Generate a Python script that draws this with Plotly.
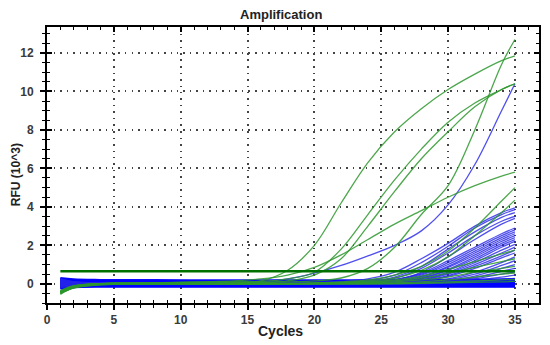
import plotly.graph_objects as go

# ---- data (RFU x10^3) read at key cycles ----
KEY_CYCLES = [1, 2, 4, 8, 14, 16, 18, 20, 22, 24, 26, 28, 30, 32, 34, 35]

GREEN_HIGH = [
    [-0.45, -0.15, 0.0, 0.05, 0.1, 0.15, 0.7, 2.0, 4.2, 6.3, 7.9, 9.1, 10.1, 10.9, 11.6, 11.85],
    [-0.4, -0.12, 0.0, 0.05, 0.1, 0.12, 0.25, 0.6, 1.8, 3.6, 5.4, 7.0, 8.4, 9.4, 10.1, 10.4],
    [-0.5, -0.2, -0.02, 0.0, 0.05, 0.08, 0.15, 0.45, 1.3, 3.0, 4.8, 6.5, 7.9, 9.2, 10.1, 10.4],
    [-0.4, -0.15, 0.0, 0.0, 0.05, 0.05, 0.1, 0.15, 0.3, 0.8, 1.9, 3.6, 5.1, 8.0, 11.4, 12.7],
    [-0.45, -0.15, 0.0, 0.05, 0.15, 0.25, 0.45, 0.85, 1.5, 2.3, 3.1, 3.8, 4.5, 5.1, 5.6, 5.8],
    [-0.35, -0.1, 0.0, 0.0, 0.0, 0.0, 0.02, 0.05, 0.1, 0.2, 0.45, 0.9, 1.7, 2.9, 4.3, 5.0],
    [-0.4, -0.15, 0.0, 0.0, 0.0, 0.0, 0.02, 0.03, 0.07, 0.15, 0.3, 0.7, 1.4, 2.5, 3.7, 4.35],
]

GREEN_LOW = [
    [-0.5, -0.2, 0.0, 0.0, 0.0, 0.0, 0.0, 0.02, 0.05, 0.1, 0.2, 0.4, 0.75, 1.15, 1.55, 1.75],
    [-0.45, -0.15, 0.0, 0.0, 0.0, 0.0, 0.0, 0.02, 0.04, 0.08, 0.15, 0.3, 0.55, 0.85, 1.15, 1.3],
    [-0.4, -0.12, 0.0, 0.0, 0.0, 0.0, 0.0, 0.0, 0.02, 0.05, 0.1, 0.2, 0.35, 0.6, 0.8, 0.9],
    [-0.55, -0.2, -0.03, 0.0, 0.0, 0.0, 0.0, 0.0, 0.0, 0.02, 0.05, 0.1, 0.2, 0.35, 0.5, 0.55],
    [-0.5, -0.22, -0.05, 0.0, 0.0, 0.0, 0.0, 0.0, 0.0, 0.0, 0.02, 0.05, 0.1, 0.15, 0.2, 0.22],
    [-0.45, -0.2, -0.05, -0.02, 0.0, 0.0, 0.0, 0.0, 0.0, 0.0, 0.0, 0.02, 0.05, 0.08, 0.1, 0.12],
]

BLUE_TOP = [0.1, 0.05, 0.02, 0.02, 0.05, 0.1, 0.25, 0.55, 0.95, 1.45, 2.0, 2.75, 4.1, 6.2, 9.0, 10.4]

BLUE_UPPER = [
    [0.2, 0.1, 0.05, 0.05, 0.05, 0.05, 0.05, 0.08, 0.12, 0.25, 0.6, 1.3, 2.1, 3.0, 3.7, 3.95],
    [0.1, 0.05, 0.0, 0.0, 0.0, 0.02, 0.03, 0.05, 0.08, 0.18, 0.45, 1.1, 1.95, 2.9, 3.6, 3.85],
    [-0.1, -0.05, 0.0, 0.0, 0.0, 0.0, 0.02, 0.04, 0.06, 0.12, 0.35, 0.9, 1.8, 2.7, 3.45, 3.7],
    [0.0, 0.0, 0.0, 0.0, 0.0, 0.0, 0.0, 0.02, 0.05, 0.1, 0.28, 0.8, 1.6, 2.5, 3.25, 3.5],
    [0.15, 0.05, 0.02, 0.02, 0.02, 0.02, 0.02, 0.03, 0.05, 0.08, 0.2, 0.6, 1.4, 2.3, 3.1, 3.4],
]

BLUE_MID = [
    [0.1, 0.05, 0.0, 0.0, 0.0, 0.0, 0.0, 0.02, 0.04, 0.08, 0.2, 0.55, 1.2, 1.9, 2.6, 2.9],
    [0.25, 0.1, 0.05, 0.05, 0.05, 0.05, 0.05, 0.06, 0.08, 0.12, 0.22, 0.5, 1.1, 1.8, 2.5, 2.8],
    [-0.1, -0.05, 0.0, 0.0, 0.0, 0.0, 0.0, 0.0, 0.02, 0.06, 0.15, 0.45, 1.0, 1.7, 2.4, 2.7],
    [0.0, 0.0, 0.0, 0.0, 0.0, 0.0, 0.0, 0.0, 0.02, 0.05, 0.12, 0.38, 0.9, 1.6, 2.3, 2.6],
    [0.2, 0.08, 0.03, 0.03, 0.03, 0.03, 0.03, 0.03, 0.05, 0.08, 0.15, 0.35, 0.85, 1.5, 2.2, 2.5],
    [-0.2, -0.08, 0.0, 0.0, 0.0, 0.0, 0.0, 0.0, 0.0, 0.03, 0.1, 0.3, 0.75, 1.4, 2.1, 2.4],
    [0.05, 0.0, 0.0, 0.0, 0.0, 0.0, 0.0, 0.0, 0.0, 0.02, 0.08, 0.28, 0.7, 1.3, 2.0, 2.3],
    [0.15, 0.05, 0.02, 0.02, 0.02, 0.02, 0.02, 0.02, 0.03, 0.05, 0.1, 0.25, 0.6, 1.2, 1.9, 2.2],
    [-0.05, 0.0, 0.0, 0.0, 0.0, 0.0, 0.0, 0.0, 0.0, 0.02, 0.06, 0.2, 0.55, 1.1, 1.75, 2.05],
    [0.1, 0.05, 0.02, 0.0, 0.0, 0.0, 0.0, 0.0, 0.0, 0.02, 0.05, 0.18, 0.5, 1.0, 1.6, 1.9],
    [-0.15, -0.05, 0.0, 0.0, 0.0, 0.0, 0.0, 0.0, 0.0, 0.0, 0.04, 0.15, 0.42, 0.9, 1.45, 1.75],
    [0.05, 0.02, 0.0, 0.0, 0.0, 0.0, 0.0, 0.0, 0.0, 0.0, 0.03, 0.12, 0.38, 0.8, 1.35, 1.6],
]

BLUE_LOW = [
    [0.1, 0.05, 0.0, 0.0, 0.0, 0.0, 0.0, 0.0, 0.0, 0.0, 0.02, 0.08, 0.25, 0.6, 1.1, 1.4],
    [-0.1, -0.05, 0.0, 0.0, 0.0, 0.0, 0.0, 0.0, 0.0, 0.0, 0.02, 0.06, 0.2, 0.5, 0.95, 1.2],
    [0.2, 0.08, 0.03, 0.02, 0.02, 0.02, 0.02, 0.02, 0.02, 0.02, 0.04, 0.06, 0.15, 0.4, 0.8, 1.0],
    [-0.2, -0.08, -0.02, 0.0, 0.0, 0.0, 0.0, 0.0, 0.0, 0.0, 0.0, 0.03, 0.12, 0.32, 0.65, 0.8],
    [0.05, 0.02, 0.0, 0.0, 0.0, 0.0, 0.0, 0.0, 0.0, 0.0, 0.0, 0.02, 0.1, 0.25, 0.5, 0.62],
    [0.25, 0.1, 0.04, 0.03, 0.03, 0.03, 0.03, 0.03, 0.03, 0.03, 0.03, 0.04, 0.07, 0.18, 0.35, 0.45],
    [-0.05, 0.0, 0.0, 0.0, 0.0, 0.0, 0.0, 0.0, 0.0, 0.0, 0.0, 0.0, 0.05, 0.12, 0.22, 0.28],
]

BLUE_FLAT = [
    [0.3, 0.23, 0.2, 0.19, 0.18, 0.18, 0.18, 0.18, 0.18, 0.18, 0.19, 0.2, 0.21, 0.22, 0.24, 0.25],
    [0.26, 0.19, 0.16, 0.15, 0.15, 0.15, 0.15, 0.15, 0.15, 0.15, 0.15, 0.16, 0.17, 0.18, 0.19, 0.2],
    [0.22, 0.15, 0.12, 0.12, 0.12, 0.12, 0.12, 0.12, 0.12, 0.12, 0.12, 0.12, 0.13, 0.14, 0.15, 0.15],
    [0.18, 0.12, 0.09, 0.09, 0.09, 0.09, 0.09, 0.09, 0.09, 0.09, 0.09, 0.09, 0.09, 0.1, 0.1, 0.1],
    [0.14, 0.08, 0.06, 0.06, 0.06, 0.06, 0.06, 0.06, 0.06, 0.06, 0.06, 0.06, 0.07, 0.07, 0.07, 0.07],
    [0.1, 0.05, 0.03, 0.03, 0.03, 0.03, 0.03, 0.03, 0.03, 0.03, 0.03, 0.03, 0.03, 0.03, 0.03, 0.03],
    [0.05, 0.02, 0.0, 0.0, 0.0, 0.0, 0.0, 0.0, 0.0, 0.0, 0.0, 0.0, 0.0, 0.0, 0.0, 0.0],
    [0.0, -0.01, -0.03, -0.03, -0.03, -0.03, -0.03, -0.03, -0.03, -0.03, -0.03, -0.03, -0.03, -0.03, -0.03, -0.03],
    [-0.05, -0.04, -0.05, -0.05, -0.05, -0.05, -0.05, -0.05, -0.05, -0.05, -0.05, -0.05, -0.05, -0.05, -0.05, -0.05],
    [-0.1, -0.07, -0.07, -0.07, -0.07, -0.07, -0.07, -0.07, -0.07, -0.07, -0.07, -0.07, -0.07, -0.07, -0.07, -0.07],
    [-0.14, -0.1, -0.09, -0.09, -0.09, -0.09, -0.09, -0.09, -0.09, -0.09, -0.09, -0.09, -0.09, -0.09, -0.09, -0.09],
    [-0.18, -0.13, -0.11, -0.11, -0.11, -0.11, -0.11, -0.11, -0.11, -0.11, -0.11, -0.11, -0.11, -0.11, -0.11, -0.11],
    [-0.22, -0.16, -0.13, -0.13, -0.13, -0.13, -0.13, -0.13, -0.13, -0.13, -0.13, -0.13, -0.13, -0.13, -0.13, -0.13],
    [-0.26, -0.18, -0.15, -0.15, -0.15, -0.15, -0.15, -0.15, -0.15, -0.15, -0.15, -0.15, -0.15, -0.15, -0.15, -0.15],
    [0.22, 0.12, 0.08, 0.07, 0.07, 0.07, 0.07, 0.07, 0.07, 0.07, 0.07, 0.08, 0.09, 0.1, 0.12, 0.14],
]

THRESHOLD_X = [1, 35]
THRESHOLD_Y = [0.65, 0.65]

X_TICKS = [0, 5, 10, 15, 20, 25, 30, 35]
Y_TICKS = [0, 2, 4, 6, 8, 10, 12]

# ---- styles ----
GREEN = "rgba(45,150,45,0.85)"
BLUE = "rgba(35,35,235,0.8)"
BLUE_BAND = "rgba(0,0,255,0.95)"
DARK_GREEN = "#007000"

fig = go.Figure()


def add_curves(series_list, color, width):
    for ys in series_list:
        fig.add_trace(go.Scatter(
            x=KEY_CYCLES, y=ys, mode="lines",
            line=dict(color=color, width=width, shape="spline", smoothing=1.0),
            hoverinfo="skip", showlegend=False))


add_curves(BLUE_FLAT, BLUE_BAND, 2.0)
add_curves(BLUE_LOW, BLUE, 1.3)
add_curves(BLUE_MID, BLUE, 1.3)
add_curves(BLUE_UPPER, BLUE, 1.3)
add_curves([BLUE_TOP], BLUE, 1.3)
add_curves(GREEN_LOW, GREEN, 1.3)
add_curves(GREEN_HIGH, GREEN, 1.3)

fig.add_trace(go.Scatter(
    x=THRESHOLD_X, y=THRESHOLD_Y, mode="lines",
    line=dict(color=DARK_GREEN, width=2.5),
    hoverinfo="skip", showlegend=False))

# invisible trace on overlay axes (for inside ticks)
fig.add_trace(go.Scatter(x=[0], y=[0], xaxis="x2", yaxis="y2", mode="markers",
                         marker=dict(opacity=0), hoverinfo="skip", showlegend=False))

X_RANGE = [0, 36.8]
Y_RANGE = [-1, 13.35]
tickfont = dict(family="Liberation Sans, Arial, sans-serif", size=12, color="#3a3a3a", weight="bold")
grid_common = dict(showgrid=True, gridcolor="#444", gridwidth=1.5, griddash="1.5px,5px")

# page body has an 8px margin: plot area spans page x 47..541, y 27..303
fig.update_layout(
    width=542, height=337,
    margin=dict(l=39, r=9, t=19, b=42),
    paper_bgcolor="white", plot_bgcolor="white",
    xaxis=dict(range=X_RANGE, tickvals=X_TICKS, ticks="outside", ticklen=5, tickwidth=1.5,
               tickcolor="black", minor=dict(dtick=1, tick0=0, ticks="outside", ticklen=3,
                                             tickwidth=1.2, tickcolor="black", showgrid=False),
               showline=True, linecolor="black", linewidth=1.8, mirror=True,
               zeroline=False, tickfont=tickfont, **grid_common),
    yaxis=dict(range=Y_RANGE, tickvals=Y_TICKS, ticks="outside", ticklen=5, tickwidth=1.5,
               tickcolor="black", minor=dict(dtick=0.5, tick0=0, ticks="outside", ticklen=3,
                                             tickwidth=1.2, tickcolor="black", showgrid=False),
               showline=True, linecolor="black", linewidth=1.8, mirror=True,
               zeroline=False, tickfont=tickfont, ticklabelstandoff=4, **grid_common),
    xaxis2=dict(range=X_RANGE, overlaying="x", anchor="y", tickvals=X_TICKS, ticks="inside",
                ticklen=5, tickwidth=1.5, tickcolor="black", mirror="ticks", showline=False,
                minor=dict(dtick=1, tick0=0, ticks="inside", ticklen=3, tickwidth=1.2,
                           tickcolor="black", showgrid=False),
                showticklabels=False, showgrid=False, zeroline=False),
    yaxis2=dict(range=Y_RANGE, overlaying="y", anchor="x", tickvals=Y_TICKS, ticks="inside",
                ticklen=5, tickwidth=1.5, tickcolor="black", mirror="ticks", showline=False,
                minor=dict(dtick=0.5, tick0=0, ticks="inside", ticklen=3, tickwidth=1.2,
                           tickcolor="black", showgrid=False),
                showticklabels=False, showgrid=False, zeroline=False),
    annotations=[
        dict(text="<b>Amplification</b>", x=(282 - 47) / 494, y=(303 - 14) / 276,
             xref="paper", yref="paper", showarrow=False, xanchor="center", yanchor="middle",
             font=dict(family="Liberation Sans, Arial, sans-serif", size=13, color="#222")),
        dict(text="<b>Cycles</b>", x=(281 - 47) / 494, y=(303 - 331) / 276,
             xref="paper", yref="paper", showarrow=False, xanchor="center", yanchor="middle",
             font=dict(family="Liberation Sans, Arial, sans-serif", size=14, color="#222")),
        dict(text="<b>RFU (10^3)</b>", x=(16 - 47) / 494, y=(303 - 175) / 276,
             xref="paper", yref="paper", showarrow=False, xanchor="center", yanchor="middle",
             textangle=-90,
             font=dict(family="Liberation Sans, Arial, sans-serif", size=12, color="#222")),
    ],
)

fig.write_html("out.html")
